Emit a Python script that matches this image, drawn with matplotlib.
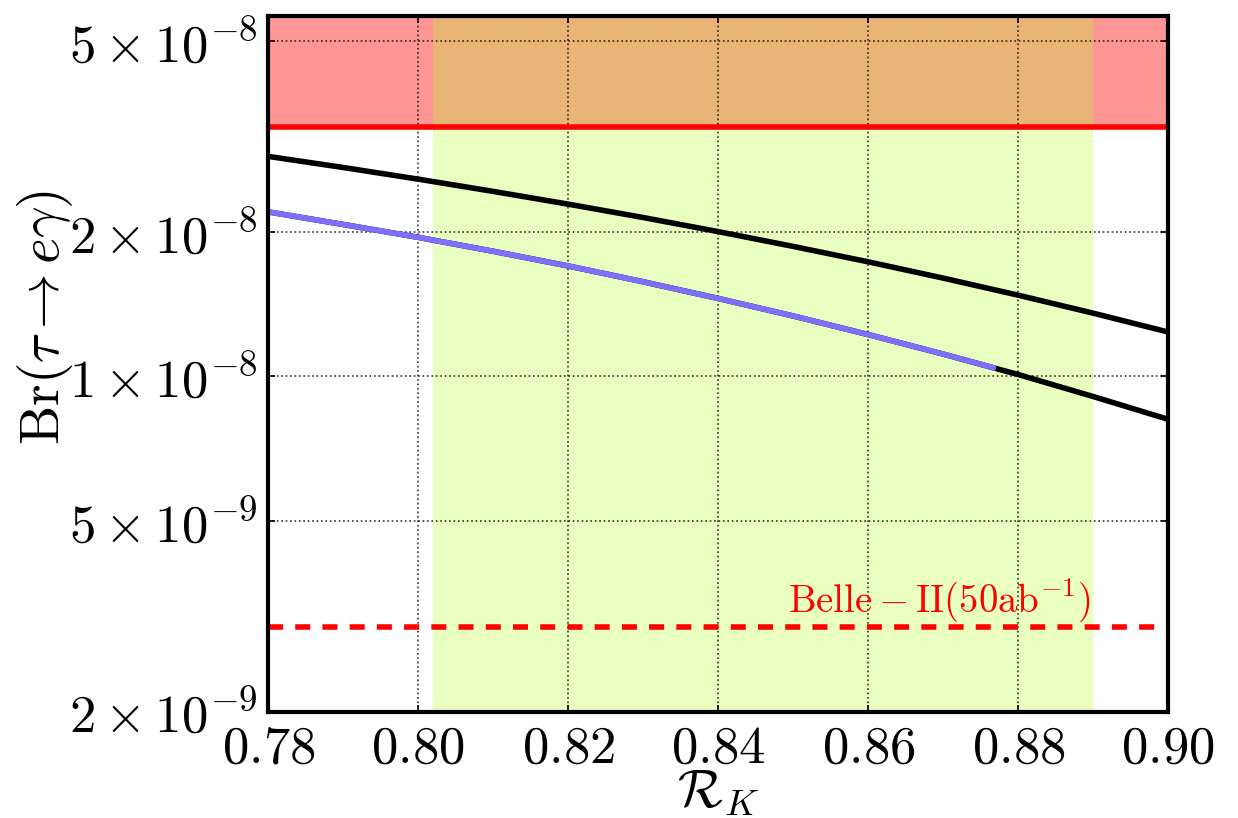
import matplotlib
matplotlib.use("Agg")
import matplotlib.pyplot as plt
from matplotlib.ticker import FixedLocator, FixedFormatter, NullLocator
import numpy as np

plt.rcParams["mathtext.fontset"] = "cm"
plt.rcParams["font.family"] = "serif"
plt.rcParams["font.serif"] = ["cmr10", "DejaVu Serif"]
plt.rcParams["axes.unicode_minus"] = False

# R_K grid and branching ratios for the two benchmark curves
rk_upper = [0.78, 0.79, 0.80, 0.81, 0.82, 0.83, 0.84, 0.85, 0.86, 0.87, 0.88, 0.89, 0.90]
br_upper = [2.871e-8, 2.722e-8, 2.574e-8, 2.427e-8, 2.283e-8, 2.141e-8, 2.001e-8,
            1.864e-8, 1.731e-8, 1.601e-8, 1.475e-8, 1.353e-8, 1.236e-8]

rk_lower = [0.78, 0.79, 0.80, 0.81, 0.82, 0.83, 0.84, 0.85, 0.86, 0.87, 0.877, 0.88, 0.89, 0.90]
br_lower = [2.200e-8, 2.071e-8, 1.947e-8, 1.821e-8, 1.697e-8, 1.573e-8, 1.452e-8,
            1.335e-8, 1.221e-8, 1.112e-8, 1.038e-8, 1.008e-8, 0.907e-8, 0.813e-8]
rk_allowed_max = 0.877          # end of the highlighted part of the lower curve

# experimental inputs
br_current_limit = 3.3e-8       # present upper bound
br_belle2 = 3.0e-9              # Belle-II projected sensitivity
rk_band = (0.802, 0.890)        # measured R_K range

xlim = (0.78, 0.90)
ylim = (2e-9, 5.63e-8)
xticks = [0.78, 0.80, 0.82, 0.84, 0.86, 0.88, 0.90]
yticks = [2e-9, 5e-9, 1e-8, 2e-8, 5e-8]
ytick_labels = [r"$2\times10^{-9}$", r"$5\times10^{-9}$", r"$1\times10^{-8}$",
                r"$2\times10^{-8}$", r"$5\times10^{-8}$"]

fig = plt.figure(figsize=(12.38, 8.18), dpi=100)
ax = fig.add_axes([0.2167, 0.130, 0.7270, 0.8504])
ax.set_yscale("log")
ax.set_xlim(*xlim)
ax.set_ylim(*ylim)

# excluded region and R_K band
ax.axhspan(br_current_limit, ylim[1], color="red", alpha=0.41, lw=0, zorder=1)
ax.axvspan(rk_band[0], rk_band[1], color="#b9ff2d", alpha=0.3, lw=0, zorder=1.1)
ax.axhline(br_current_limit, color="red", lw=4, zorder=3)
ax.axhline(br_belle2, color="red", lw=4, ls=(0, (2.7, 2.2)), zorder=3)

# curves
ax.plot(rk_upper, br_upper, color="black", lw=4, zorder=4)
ax.plot(rk_lower, br_lower, color="black", lw=4, zorder=4)
rl = np.array(rk_lower)
bl = np.array(br_lower)
mask = rl <= rk_allowed_max
ax.plot(rl[mask], bl[mask], color="#806eff", lw=4, zorder=5,
        solid_capstyle="butt")

ax.text(0.8695, 3.23e-9, r"$\mathrm{Belle-II(50ab^{-1})}$", color="red",
        fontsize=28, ha="center", va="baseline", zorder=6)

# axes styling
ax.xaxis.set_major_locator(FixedLocator(xticks))
ax.xaxis.set_major_formatter(FixedFormatter([r"$%.2f$" % t for t in xticks]))
ax.yaxis.set_major_locator(FixedLocator(yticks))
ax.yaxis.set_major_formatter(FixedFormatter(ytick_labels))
ax.yaxis.set_minor_locator(NullLocator())
ax.xaxis.set_minor_locator(NullLocator())
ax.tick_params(which="major", direction="in", length=5, width=1.2,
               top=True, right=True, labelsize=38)
ax.tick_params(axis="x", pad=10)
ax.tick_params(axis="y", pad=8)
ax.grid(True, color="black", ls=":", lw=1.2, alpha=0.8)
for s in ax.spines.values():
    s.set_linewidth(3)
    s.set_zorder(7)

ax.set_xlabel(r"$\mathcal{R}_K$", fontsize=38)
ax.set_ylabel(r"$\mathrm{Br}(\tau\rightarrow e\gamma)$", fontsize=40)
ax.yaxis.set_label_coords(-0.215, 0.566)
ax.xaxis.set_label_coords(0.5, -0.081)

fig.savefig("out.png", dpi=100)
